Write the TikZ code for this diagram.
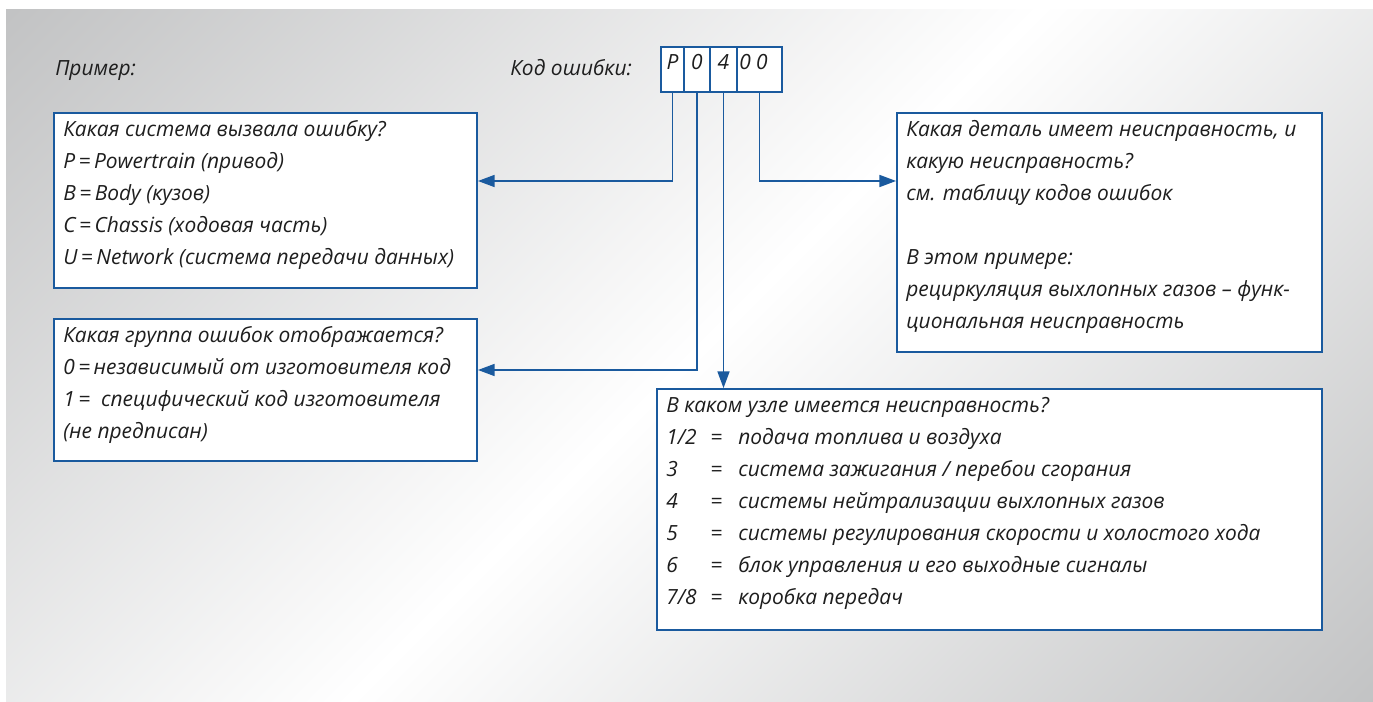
\documentclass[tikz,border=0pt]{standalone}
\usepackage{fontspec}
\setmainfont{Open Sans}
\usepackage{tikz}
\usetikzlibrary{arrows.meta,fit}

\definecolor{codeblue}{RGB}{26,90,158}
\definecolor{bggray}{RGB}{190,191,192}
\definecolor{ink}{RGB}{30,30,30}

\tikzset{
  box/.style={draw=codeblue, line width=1.4pt, fill=white, inner sep=0pt},
  cell/.style={box, text=ink, font=\fontsize{15.7}{18}\selectfont\itshape},
  txt/.style={anchor=north west, inner sep=0pt, align=left, text=ink,
    font=\fontsize{15.7}{24}\selectfont\itshape},
  conn/.style={draw=codeblue, line width=1.2pt},
  arr/.style={conn, -{Triangle[length=12.5pt,width=9pt]}}
}

\begin{document}
\begin{tikzpicture}[x=0.75pt,y=-0.75pt]
            % background
            \useasboundingbox (0,0) rectangle (1373,702);
            \fill[white] (0,0) rectangle (1373,702);
            \begin{scope}
              \clip (6,10) rectangle (1373,702);
              \shade[top color=bggray, bottom color=bggray, middle color=white, shading angle=45]
                (-90,-420) rectangle (1470,1140);
            \end{scope}

            \node[txt, anchor=base west] (bsp) at (55,76) {Пример:};
            \node[txt, anchor=base west] (codelbl) at (510,76) {Код ошибки:};

            % code cells
            \node[cell, fit={(661,47) (684,92)}] (cP) {P};
            \node[cell, fit={(684,47) (710,92)}] (c0) {0};
            \node[cell, fit={(710,47) (737,92)}] (c4) {4};
            \node[cell, fit={(737,47) (782,92)}] (c00) {0 0\kern9pt};

            % boxes
            \node[box, fit={(54,113) (477,288)}] (sys) {};
            \node[box, fit={(54,319) (477,461)}] (grp) {};
            \node[box, fit={(897,113) (1322,352)}] (det) {};
            \node[box, fit={(657,389) (1322,630)}] (uzel) {};

            \node[txt] (systxt) at (63,113.6) {\strut Какая система вызвала ошибку?\\
              P\,=\,Powertrain (привод)\\
              B\,=\,Body (кузов)\\
              C\,=\,Chassis (ходовая часть)\\
              U\,=\,Network (система передачи данных)};
            \node[txt] (grptxt) at (63,319.6) {\strut Какая группа ошибок отображается?\\
              0\,=\,независимый от изготовителя код\\
              1\,= \ специфический код изготовителя\\
              (не предписан)};
            \node[txt] (dettxt) at (906,113.6) {\strut Какая деталь имеет неисправность, и\\
              какую неисправность?\\
              см. таблицу кодов ошибок\\[24pt]
              В этом примере:\\
              рециркуляция выхлопных газов – функ-\\
              циональная неисправность};
            \node[txt] (uzeltxt) at (666,389.6) {\strut В каком узле имеется неисправность?\\
              \makebox[33pt][l]{1/2}\makebox[9pt][c]{=}\hspace{12pt}подача топлива и воздуха\\
              \makebox[33pt][l]{3}\makebox[9pt][c]{=}\hspace{12pt}система зажигания / перебои сгорания\\
              \makebox[33pt][l]{4}\makebox[9pt][c]{=}\hspace{12pt}системы нейтрализации выхлопных газов\\
              \makebox[33pt][l]{5}\makebox[9pt][c]{=}\hspace{12pt}системы регулирования скорости и холостого хода\\
              \makebox[33pt][l]{6}\makebox[9pt][c]{=}\hspace{12pt}блок управления и его выходные сигналы\\
              \makebox[33pt][l]{7/8}\makebox[9pt][c]{=}\hspace{12pt}коробка передач};

            % connectors
            \coordinate (yA) at (0,181);
            \coordinate (yB) at (0,370);
            \draw[arr] (cP.south) |- (sys.east |- yA);
            \draw[arr] (c0.south) |- (grp.east |- yB);
            \draw[arr] (c4.south) -- (c4.south |- uzel.north);
            \draw[arr] (c00.south) |- (det.west |- yA);
\end{tikzpicture}
\end{document}
